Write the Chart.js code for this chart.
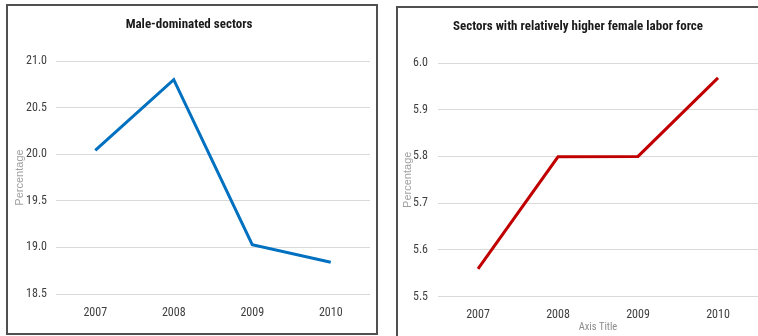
<!DOCTYPE html>
<html>
<head>
<meta charset="utf-8">
<script src="https://cdn.jsdelivr.net/npm/chart.js@4"></script>
<style>
  html, body { margin: 0; padding: 0; background: #fff; overflow: hidden; width: 758px; height: 336px; }
  .panel { position: absolute; border: 2px solid #505050; background: #fff; }
  #left-panel { left: 6px; top: 4px; width: 368px; height: 327px; }
  #right-panel { left: 396px; top: 6px; width: 370px; height: 330px; }
  canvas { display: block; }
</style>
</head>
<body>
<div class="panel" id="left-panel"><canvas id="left-canvas"></canvas></div>
<div class="panel" id="right-panel"><canvas id="right-canvas"></canvas></div>
<script>
const years = ["2007", "2008", "2009", "2010"];
const maleSectors = [20.04, 20.80, 19.03, 18.84];
const femaleSectors = [5.559, 5.799, 5.800, 5.968];
const maleTicks = [18.5, 19.0, 19.5, 20.0, 20.5, 21.0];
const femaleTicks = [5.5, 5.6, 5.7, 5.8, 5.9, 6.0];

const narrow = "'Roboto Condensed', 'Open Sans Condensed', sans-serif";

function makeChart(id, cfg) {
  const ctx = document.getElementById(id).getContext("2d");
  const tickVals = cfg.ticks;
  return new Chart(ctx, {
    type: "line",
    data: {
      labels: years,
      datasets: [{
        data: cfg.values,
        borderColor: cfg.color,
        borderWidth: 3,
        pointRadius: 0,
        tension: 0,
        fill: false
      }]
    },
    options: {
      responsive: true,
      maintainAspectRatio: false,
      animation: false,
      layout: { padding: cfg.padding },
      plugins: {
        legend: { display: false },
        tooltip: { enabled: false },
        title: {
          display: true,
          text: cfg.title,
          color: "#1a1a1a",
          font: { family: narrow, size: 13, weight: "bold" },
          padding: { top: 11.2, bottom: 28.2 }
        }
      },
      scales: {
        x: {
          offset: true,
          grid: { display: false, drawTicks: false },
          border: { display: false },
          ticks: { color: "#404040", font: { family: narrow, size: 12 }, padding: cfg.xPad },
          title: cfg.xTitle ? {
            display: true,
            text: cfg.xTitle,
            color: "#8c8c8c",
            font: { family: narrow, size: 10.5 },
            padding: { top: -11.5, bottom: 2 }
          } : { display: false }
        },
        y: {
          min: tickVals[0],
          max: tickVals[tickVals.length - 1],
          afterBuildTicks: scale => { scale.ticks = tickVals.map(v => ({ value: v })); },
          afterFit: scale => { scale.width = cfg.yWidth; },
          grid: { color: "#d9d9d9", lineWidth: 1, drawTicks: false },
          border: { display: false },
          ticks: {
            color: "#404040",
            font: { family: narrow, size: 12 },
            padding: cfg.yPad,
            callback: v => v.toFixed(1)
          },
          title: {
            display: true,
            text: "Percentage",
            color: "#a0a0a0",
            font: { family: "'Liberation Sans', Arial, sans-serif", size: 11 },
            padding: { top: cfg.yTitleOff, bottom: 0 }
          }
        }
      }
    }
  });
}

makeChart("left-canvas", {
  title: "Male-dominated sectors",
  values: maleSectors,
  ticks: maleTicks,
  color: "#0070c0",
  padding: { left: 0, right: 6, top: 0, bottom: 2 },
  yWidth: 48,
  yPad: 9,
  yTitleOff: 5.4,
  xPad: 11.3
});

makeChart("right-canvas", {
  title: "Sectors with relatively higher female labor force",
  values: femaleSectors,
  ticks: femaleTicks,
  color: "#c00000",
  padding: { left: 0, right: 10, top: 0, bottom: 2 },
  yWidth: 40,
  yPad: 10,
  yTitleOff: 3,
  xPad: 11,
  xTitle: "Axis Title"
});
</script>
</body>
</html>
